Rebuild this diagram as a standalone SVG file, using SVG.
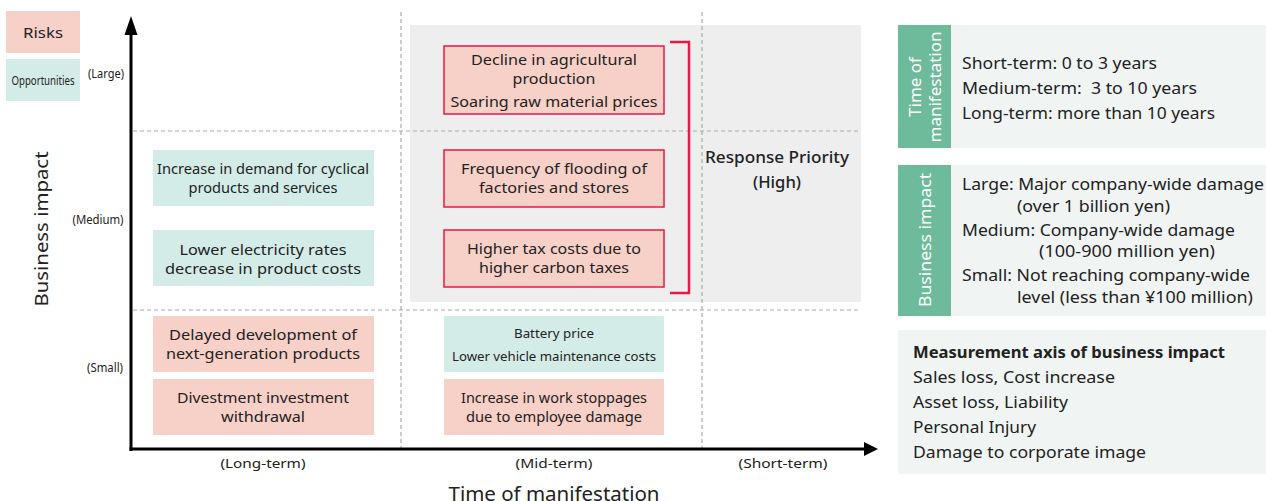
<svg xmlns="http://www.w3.org/2000/svg" width="1266" height="501" viewBox="0 0 1266 501">
  <defs>
    <style>
      text { font-family: "Noto Sans", "Open Sans", sans-serif; fill: #222; }
      .risk { fill: #f7d0c8; }
      .opp { fill: #d4ece8; }
      .riskhi { fill: #f7d0c8; stroke: #e8194a; stroke-width: 1.5; }
      .grid { stroke: #aaaaaa; stroke-width: 1.2; stroke-dasharray: 4 3; fill: none; }
      .axis { stroke: #000; stroke-width: 3; fill: none; }
      .bt { font-size: 15px; text-anchor: middle; }
      .nar { font-size: 13px; text-anchor: middle; }
      .lbl { font-size: 13px; text-anchor: middle; }
      .panel { fill: #f0f5f3; }
      .strip { fill: #6dbb9a; }
      .pt { font-size: 16px; }
      .st { font-size: 17px; fill: #fff; text-anchor: middle; }
    </style>
  </defs>

  <!-- legend -->
  <g id="legend-risks">
    <rect class="risk" x="6" y="11" width="74" height="42"/>
    <text x="43" y="38" font-size="15" text-anchor="middle" textLength="40" lengthAdjust="spacingAndGlyphs">Risks</text>
  </g>
  <g id="legend-opportunities">
    <rect class="opp" x="6" y="59" width="74" height="42"/>
    <text x="43" y="85" font-size="13" text-anchor="middle" textLength="63" lengthAdjust="spacingAndGlyphs">Opportunities</text>
  </g>

  <!-- high-priority zone -->
  <rect x="410" y="25" width="451" height="277" fill="#eeeeee"/>

  <!-- grid -->
  <g id="grid">
    <line class="grid" x1="401" y1="12" x2="401" y2="449"/>
    <line class="grid" x1="702" y1="12" x2="702" y2="449"/>
    <line class="grid" x1="133" y1="131" x2="860" y2="131"/>
    <line class="grid" x1="133" y1="310" x2="860" y2="310"/>
  </g>

  <!-- axes -->
  <g id="connectors">
    <line class="axis" x1="131" y1="451" x2="131" y2="32"/>
    <polygon points="131,16 124.5,35 137.5,35" fill="#000"/>
    <line class="axis" x1="129.5" y1="449" x2="864" y2="449"/>
    <polygon points="878,449 864,442 864,456" fill="#000"/>
  </g>

  <!-- axis labels -->
  <g id="axis-labels">
    <text x="106" y="78" class="lbl" textLength="36" lengthAdjust="spacingAndGlyphs">(Large)</text>
    <text x="98" y="224" class="lbl" textLength="51" lengthAdjust="spacingAndGlyphs">(Medium)</text>
    <text x="105" y="372" class="lbl" textLength="36" lengthAdjust="spacingAndGlyphs">(Small)</text>
    <text x="263" y="468" class="lbl" font-size="14" textLength="85" lengthAdjust="spacingAndGlyphs">(Long-term)</text>
    <text x="554" y="468" class="lbl" font-size="14" textLength="77" lengthAdjust="spacingAndGlyphs">(Mid-term)</text>
    <text x="783" y="468" class="lbl" font-size="14" textLength="89" lengthAdjust="spacingAndGlyphs">(Short-term)</text>
    <text x="554" y="501" font-size="19" text-anchor="middle" textLength="211" lengthAdjust="spacingAndGlyphs">Time of manifestation</text>
    <text transform="translate(48,229) rotate(-90)" font-size="18" text-anchor="middle" textLength="155" lengthAdjust="spacingAndGlyphs">Business impact</text>
  </g>

  <!-- long-term column -->
  <g id="node-cyclical-demand">
    <rect class="opp" x="153" y="150" width="221" height="56"/>
    <text class="bt" x="263" y="174" font-size="14.5" textLength="212" lengthAdjust="spacingAndGlyphs">Increase in demand for cyclical</text>
    <text class="bt" x="263" y="193" font-size="14.5" textLength="149" lengthAdjust="spacingAndGlyphs">products and services</text>
  </g>
  <g id="node-electricity-rates">
    <rect class="opp" x="153" y="230" width="221" height="56"/>
    <text class="bt" x="263" y="255" textLength="167" lengthAdjust="spacingAndGlyphs">Lower electricity rates</text>
    <text class="bt" x="263" y="274" textLength="196" lengthAdjust="spacingAndGlyphs">decrease in product costs</text>
  </g>
  <g id="node-delayed-development">
    <rect class="risk" x="153" y="316" width="221" height="56"/>
    <text class="bt" x="263" y="340" textLength="188" lengthAdjust="spacingAndGlyphs">Delayed development of</text>
    <text class="bt" x="263" y="359" textLength="194" lengthAdjust="spacingAndGlyphs">next-generation products</text>
  </g>
  <g id="node-divestment">
    <rect class="risk" x="153" y="379" width="221" height="56"/>
    <text class="bt" x="263" y="403" textLength="172" lengthAdjust="spacingAndGlyphs">Divestment investment</text>
    <text class="bt" x="263" y="422" textLength="84" lengthAdjust="spacingAndGlyphs">withdrawal</text>
  </g>

  <!-- mid-term column -->
  <g id="node-agriculture">
    <rect class="riskhi" x="444" y="46" width="220" height="68"/>
    <text class="bt" x="554" y="65" textLength="166" lengthAdjust="spacingAndGlyphs">Decline in agricultural</text>
    <text class="bt" x="554" y="84" textLength="83" lengthAdjust="spacingAndGlyphs">production</text>
    <text class="bt" x="554" y="107" textLength="207" lengthAdjust="spacingAndGlyphs">Soaring raw material prices</text>
  </g>
  <g id="node-flooding">
    <rect class="riskhi" x="444" y="150" width="220" height="57"/>
    <text class="bt" x="554" y="174" textLength="186" lengthAdjust="spacingAndGlyphs">Frequency of flooding of</text>
    <text class="bt" x="554" y="193" textLength="150" lengthAdjust="spacingAndGlyphs">factories and stores</text>
  </g>
  <g id="node-carbon-tax">
    <rect class="riskhi" x="444" y="230" width="220" height="57"/>
    <text class="bt" x="554" y="254" textLength="174" lengthAdjust="spacingAndGlyphs">Higher tax costs due to</text>
    <text class="bt" x="554" y="273" textLength="150" lengthAdjust="spacingAndGlyphs">higher carbon taxes</text>
  </g>
  <g id="node-battery">
    <rect class="opp" x="444" y="316" width="220" height="56"/>
    <text class="nar" x="554" y="338" textLength="80" lengthAdjust="spacingAndGlyphs">Battery price</text>
    <text class="nar" x="554" y="361" textLength="204" lengthAdjust="spacingAndGlyphs">Lower vehicle maintenance costs</text>
  </g>
  <g id="node-work-stoppages">
    <rect class="risk" x="444" y="379" width="220" height="56"/>
    <text class="bt" x="554" y="403" textLength="186" lengthAdjust="spacingAndGlyphs">Increase in work stoppages</text>
    <text class="bt" x="554" y="422" textLength="176" lengthAdjust="spacingAndGlyphs">due to employee damage</text>
  </g>

  <!-- priority bracket -->
  <g id="priority">
    <polyline points="670,42 689,42 689,293 670,293" fill="none" stroke="#e8194a" stroke-width="2.5"/>
    <text x="777" y="163" font-size="16" font-weight="500" text-anchor="middle" textLength="144" lengthAdjust="spacingAndGlyphs">Response Priority</text>
    <text x="777" y="188" font-size="16" font-weight="500" text-anchor="middle" textLength="48" lengthAdjust="spacingAndGlyphs">(High)</text>
  </g>

  <!-- definitions: time of manifestation -->
  <g id="panel-time">
    <rect class="panel" x="898" y="25" width="368" height="123"/>
    <rect class="strip" x="898" y="25" width="53" height="123"/>
    <text class="st" transform="translate(925,87) rotate(-90)"><tspan x="0" y="-4">Time of</tspan><tspan x="0" y="16" textLength="111" lengthAdjust="spacingAndGlyphs">manifestation</tspan></text>
    <text class="pt" x="962" y="69" textLength="195" lengthAdjust="spacingAndGlyphs">Short-term: 0 to 3 years</text>
    <text class="pt" x="962" y="94" xml:space="preserve" textLength="235" lengthAdjust="spacingAndGlyphs">Medium-term:  3 to 10 years</text>
    <text class="pt" x="962" y="119" textLength="253" lengthAdjust="spacingAndGlyphs">Long-term: more than 10 years</text>
  </g>

  <!-- definitions: business impact -->
  <g id="panel-impact">
    <rect class="panel" x="898" y="165" width="368" height="151"/>
    <rect class="strip" x="898" y="165" width="53" height="151"/>
    <text class="st" transform="translate(931,240) rotate(-90)" textLength="134" lengthAdjust="spacingAndGlyphs">Business impact</text>
    <text class="pt" x="962" y="190" textLength="302" lengthAdjust="spacingAndGlyphs">Large: Major company-wide damage</text>
    <text class="pt" x="1017" y="212" textLength="153" lengthAdjust="spacingAndGlyphs">(over 1 billion yen)</text>
    <text class="pt" x="962" y="236" textLength="273" lengthAdjust="spacingAndGlyphs">Medium: Company-wide damage</text>
    <text class="pt" x="1039" y="257" textLength="176" lengthAdjust="spacingAndGlyphs">(100-900 million yen)</text>
    <text class="pt" x="962" y="281" textLength="288" lengthAdjust="spacingAndGlyphs">Small: Not reaching company-wide</text>
    <text class="pt" x="1017" y="303" textLength="236" lengthAdjust="spacingAndGlyphs">level (less than ¥100 million)</text>
  </g>

  <!-- measurement axis -->
  <g id="panel-measurement">
    <rect class="panel" x="898" y="330" width="368" height="144"/>
    <text class="pt" x="913" y="358" font-weight="bold" textLength="312" lengthAdjust="spacingAndGlyphs">Measurement axis of business impact</text>
    <text class="pt" x="913" y="383" textLength="202" lengthAdjust="spacingAndGlyphs">Sales loss, Cost increase</text>
    <text class="pt" x="913" y="408" textLength="155" lengthAdjust="spacingAndGlyphs">Asset loss, Liability</text>
    <text class="pt" x="913" y="433" textLength="123" lengthAdjust="spacingAndGlyphs">Personal Injury</text>
    <text class="pt" x="913" y="458" textLength="233" lengthAdjust="spacingAndGlyphs">Damage to corporate image</text>
  </g>
</svg>
